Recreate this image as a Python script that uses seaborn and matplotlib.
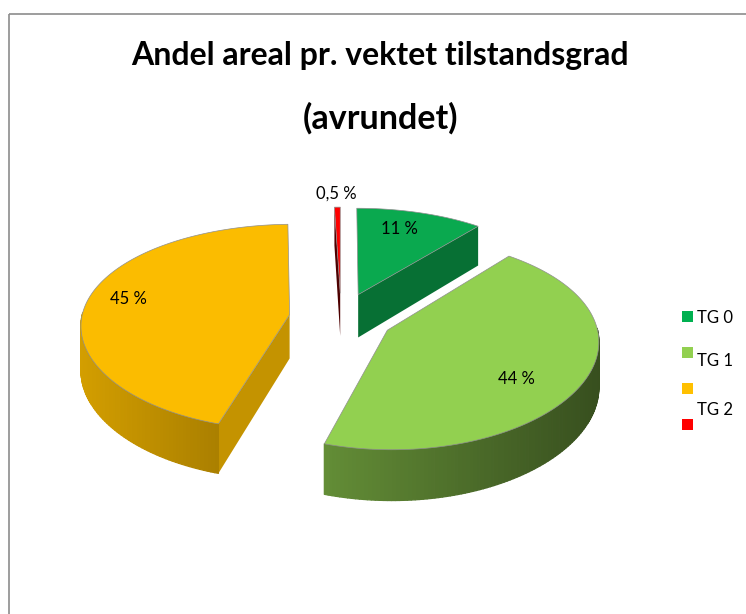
import numpy as np
import matplotlib
matplotlib.use("Agg")
import matplotlib.pyplot as plt
from matplotlib.collections import PolyCollection
from matplotlib.patches import Polygon, Rectangle
import seaborn as sns

categories = ["TG 0", "TG 1", "TG 2", "TG 3"]
values = [11, 44, 45, 0.5]
pct_labels = ["11 %", "44 %", "45 %", "0,5 %"]
legend_labels = ["TG 0", "TG 1", "TG 2"]
colors = ["#0AA94F", "#92D050", "#FBBC00", "#FF0000"]

sns.set_theme(style="white")
plt.rcParams["font.family"] = ["Lato", "DejaVu Sans"]
palette = sns.color_palette(colors)

# pie geometry in pixels, with a small perspective
CX, CY = 341, 318
RX, RY = 208, 102
K_X, K_Y = 0.09, 0.12
EXPLODE = 0.25
THICK = 44


def project(x, y, down=0.0):
    sx = 1 / (1 + K_X * y)
    sy = 1 / (1 + K_Y * y)
    return CX + RX * x * sx, CY - RY * y * sy + down * sy


def shade(col, f):
    return tuple(c * f for c in col)


fig = plt.figure(figsize=(7.46, 6.14), dpi=100)
ax = fig.add_axes([0, 0, 1, 1])
ax.set_xlim(0, 746)
ax.set_ylim(614, 0)
ax.axis("off")

# wall shading (left end, right end) per slice
wall_shades = [(0.6, 0.6), (0.68, 0.38), (0.84, 0.68), (0.3, 0.3)]
cut_shades = [0.66, 0.6, 0.78, 0.3]
edges = np.cumsum([0] + values) / sum(values) * 360

slices = []
for i in range(len(values)):
    slices.append((i, edges[i], edges[i + 1]))

# back to front
for i, a0, a1 in [slices[0], slices[3], slices[2], slices[1]]:
    mid = np.radians((a0 + a1) / 2)
    ox, oy = EXPLODE * np.sin(mid), EXPLODE * np.cos(mid)
    th = np.radians(np.linspace(a0, a1, 160))
    wx, wy = ox + np.sin(th), oy + np.cos(th)
    col = palette[i]

    # cut faces
    for a, sign in [(a0, 1), (a1, -1)]:
        if sign * np.sin(np.radians(a)) < -1e-6:
            rx, ry = ox + np.sin(np.radians(a)), oy + np.cos(np.radians(a))
            face = [project(ox, oy), project(rx, ry), project(rx, ry, THICK), project(ox, oy, THICK)]
            ax.add_patch(Polygon(face, closed=True, fc=shade(col, cut_shades[i]), ec="none", zorder=2))

    # outer wall as shaded strips
    vis = np.where(np.cos(th) < 0.03)[0]
    if len(vis) > 1:
        polys, cols = [], []
        xs = [project(wx[j], wy[j])[0] for j in vis]
        xmin, xmax = min(xs), max(xs)
        for j, j2 in zip(vis[:-1], vis[1:]):
            polys.append([project(wx[j], wy[j]), project(wx[j2], wy[j2]),
                          project(wx[j2], wy[j2], THICK), project(wx[j], wy[j], THICK)])
            t = (xs[j - vis[0]] - xmin) / (xmax - xmin)
            f = wall_shades[i][0] + (wall_shades[i][1] - wall_shades[i][0]) * t
            cols.append(shade(col, f))
        ax.add_collection(PolyCollection(polys, facecolors=cols, edgecolors=cols, linewidths=0.9, zorder=2))

    # top surface
    top = [project(ox, oy)] + [project(x, y) for x, y in zip(wx, wy)]
    ax.add_patch(Polygon(top, closed=True, fc=col, ec="#8f8f8f", lw=0.5, zorder=3))

# percent labels
label_pos = [(399, 229), (516, 379), (128, 299), (336, 194)]
for (x, y), txt in zip(label_pos, pct_labels):
    ax.text(x, y, txt, ha="center", va="center", fontsize=12, color="black", zorder=5)

# title
ax.text(380, 56, "Andel areal pr. vektet tilstandsgrad", ha="center", va="center",
        fontsize=23, fontweight="bold", color="black")
ax.text(380, 118, "(avrundet)", ha="center", va="center",
        fontsize=24.5, fontweight="bold", color="black")

# legend, labels sit off the swatches like in the source
swatch_y = [311, 347, 383, 419]
for y, c in zip(swatch_y, ["#00B050", "#92D050", "#FFC000", "#FF0000"]):
    ax.add_patch(Rectangle((682, y), 11, 11, fc=c, ec="none"))
text_y = [318, 361, 410]
for y, txt in zip(text_y, legend_labels):
    ax.text(697, y, txt, ha="left", va="center", fontsize=12, color="black")

# chart border, cut off by the crop at right and bottom
ax.plot([8.5, 8.5], [614, 13.5], color="#8c8c8c", lw=1.2, solid_capstyle="butt")
ax.plot([8.5, 746], [13.5, 13.5], color="#8c8c8c", lw=1.2, solid_capstyle="butt")

fig.savefig("out.png", dpi=100)
